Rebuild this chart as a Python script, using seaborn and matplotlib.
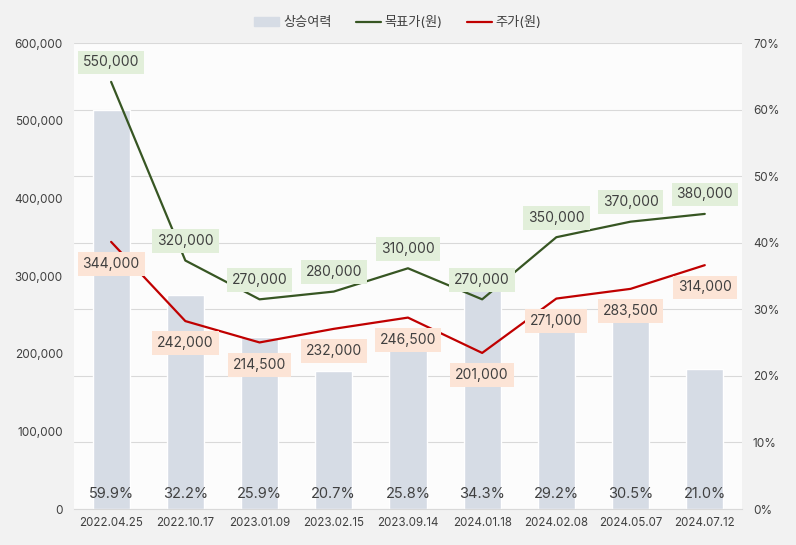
import numpy as np
import pandas as pd
import matplotlib
matplotlib.use("Agg")
import matplotlib.pyplot as plt
import seaborn as sns
from matplotlib.patches import Patch
from matplotlib.lines import Line2D
from matplotlib.ticker import FuncFormatter

dates = ['2022.04.25', '2022.10.17', '2023.01.09', '2023.02.15', '2023.09.14',
         '2024.01.18', '2024.02.08', '2024.05.07', '2024.07.12']
target = [550000, 320000, 270000, 280000, 310000, 270000, 350000, 370000, 380000]
price = [344000, 242000, 214500, 232000, 246500, 201000, 271000, 283500, 314000]
upside = [59.9, 32.2, 25.9, 20.7, 25.8, 34.3, 29.2, 30.5, 21.0]

sns.set_style("white")
plt.rcParams['font.family'] = ['Inter', 'Noto Sans CJK KR', 'DejaVu Sans']

txt = '#404040'
bar_c = '#d6dce5'
green = '#375623'
red = '#c00000'

df = pd.DataFrame({'date': dates, 'target': target, 'price': price, 'upside': upside})
df['x'] = np.arange(len(df))

fig = plt.figure(figsize=(7.96, 5.45), dpi=100)
fig.patch.set_facecolor('#f2f2f2')
ax = fig.add_axes([0.093, 0.066, 0.839, 0.855])
ax.set_facecolor('#fcfcfc')

# bars on right scale
sns.barplot(data=df, x='date', y='upside', color=bar_c, width=0.5, ax=ax, saturation=1)
ax.set_ylim(0, 70)
ax.set_yticks(range(0, 71, 10))
ax.yaxis.set_major_formatter(FuncFormatter(lambda v, p: f'{int(v)}%'))
ax.grid(axis='y', color='#d9d9d9', linewidth=0.8)
ax.set_axisbelow(True)
ax.set_xlim(-0.5, 8.5)
ax.set_xlabel('')
ax.set_ylabel('')
for i, v in enumerate(upside):
    ax.text(i, 2.3, f'{v:.1f}%', ha='center', va='center', fontsize=10.5, color=txt)

ax2 = ax.twinx()
sns.lineplot(data=df, x='x', y='target', color=green, linewidth=1.6, ax=ax2)
sns.lineplot(data=df, x='x', y='price', color=red, linewidth=1.6, ax=ax2)
ax2.set_ylim(0, 600000)
ax2.set_yticks(range(0, 600001, 100000))
ax2.yaxis.set_major_formatter(FuncFormatter(lambda v, p: f'{int(v):,}'))
ax2.yaxis.tick_left()
ax.yaxis.tick_right()
ax2.set_xlim(-0.5, 8.5)
ax2.set_xlabel('')
ax2.set_ylabel('')

for i in range(len(dates)):
    ax2.annotate(f'{target[i]:,}', (i, target[i]), xytext=(0, 14), textcoords='offset points',
                 ha='center', va='center', fontsize=10, color=txt,
                 bbox=dict(boxstyle='square,pad=0.35', fc='#e2efda', ec='none'))
    ax2.annotate(f'{price[i]:,}', (i, price[i]), xytext=(0, -16), textcoords='offset points',
                 ha='center', va='center', fontsize=10, color=txt,
                 bbox=dict(boxstyle='square,pad=0.35', fc='#fce4d6', ec='none'))

for a in (ax, ax2):
    for s in a.spines.values():
        s.set_visible(False)
    a.tick_params(length=0, labelsize=8.5, colors=txt, pad=8)
ax.spines['bottom'].set_visible(True)
ax.spines['bottom'].set_color('#d9d9d9')
ax.tick_params(axis='x', labelsize=8.3, pad=6)

handles = [Patch(color=bar_c, label='상승여력'),
           Line2D([], [], color=green, linewidth=1.6, label='목표가(원)'),
           Line2D([], [], color=red, linewidth=1.6, label='주가(원)')]
fig.legend(handles=handles, loc='center', bbox_to_anchor=(0.5, 0.958), ncol=3, frameon=False,
           fontsize=9.5, labelcolor=txt, handlelength=1.9, columnspacing=1.8, handletextpad=0.3)

fig.savefig('out.png', dpi=100, facecolor=fig.get_facecolor())
